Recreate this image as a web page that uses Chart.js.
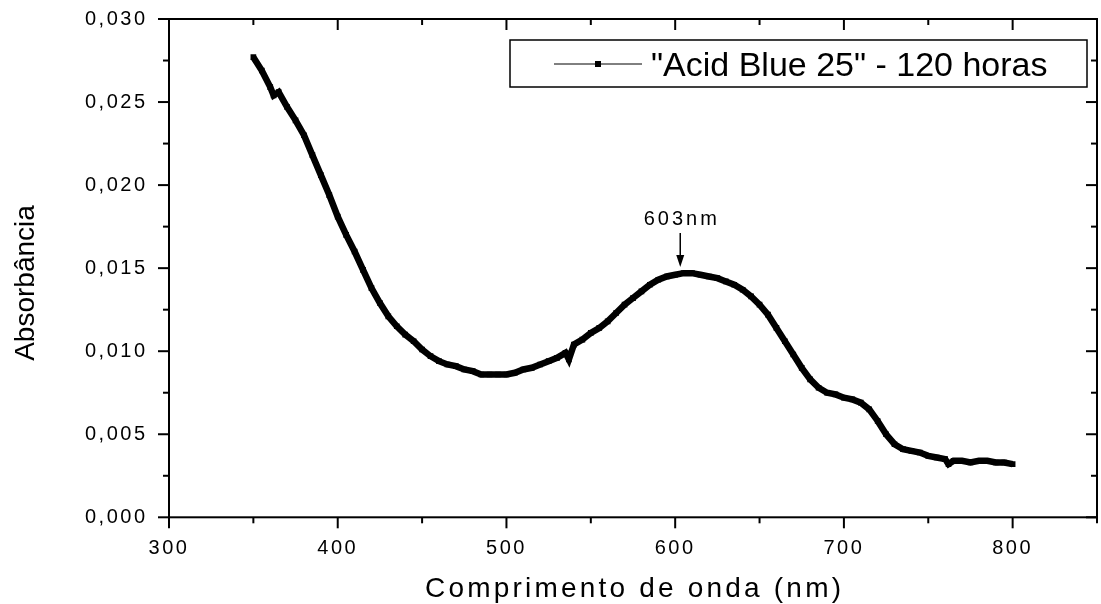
<!DOCTYPE html>
<html lang="pt">
<head>
<meta charset="utf-8">
<title>Acid Blue 25 - 120 horas</title>
<script src="https://cdn.jsdelivr.net/npm/chart.js@4.4.1/dist/chart.umd.min.js"></script>
<style>
    html, body { margin: 0; padding: 0; background: #fff; }
    #wrap { width: 1101px; height: 604px; }
</style>
</head>
<body>
<div id="wrap"><canvas id="espectro" width="1101" height="604"></canvas></div>
<script>
// Espectro UV-Vis (lido a cada ~5 nm)
const wavelengths = [
    350, 355, 360, 362, 365, 370, 375, 380, 385, 390, 395, 400, 405, 410, 415, 420,
    425, 430, 435, 440, 445, 450, 455, 460, 465, 470, 475, 480, 485, 490, 495, 500,
    505, 510, 515, 520, 525, 530, 535, 537, 540, 545, 550, 555, 560, 565, 570, 575,
    580, 585, 590, 595, 600, 605, 610, 615, 620, 625, 630, 635, 640, 645, 650, 655,
    660, 665, 670, 675, 680, 685, 690, 695, 700, 705, 710, 715, 720, 725, 730, 735,
    740, 745, 750, 755, 760, 762, 765, 770, 775, 780, 785, 790, 795, 800
];
const absorbance = [
    0.0277, 0.0269, 0.0259, 0.0254, 0.0256, 0.0247, 0.0239, 0.0230, 0.0218, 0.0206, 0.0194, 0.0181, 0.0170, 0.0160, 0.0149, 0.0138,
    0.0129, 0.0121, 0.0115, 0.0110, 0.0106, 0.0101, 0.0097, 0.0094, 0.0092, 0.0091, 0.0089, 0.0088, 0.0086, 0.0086, 0.0086, 0.0086,
    0.0087, 0.0089, 0.0090, 0.0092, 0.0094, 0.0096, 0.0099, 0.0095, 0.0104, 0.0107, 0.0111, 0.0114, 0.0118, 0.0123, 0.0128, 0.0132,
    0.0136, 0.0140, 0.0143, 0.0145, 0.0146, 0.0147, 0.0147, 0.0146, 0.0145, 0.0144, 0.0142, 0.0140, 0.0137, 0.0133, 0.0128, 0.0122,
    0.0114, 0.0106, 0.0098, 0.0090, 0.0083, 0.0078, 0.0075, 0.0074, 0.0072, 0.0071, 0.0069, 0.0065, 0.0058, 0.0050, 0.0044, 0.0041,
    0.0040, 0.0039, 0.0037, 0.0036, 0.0035, 0.0032, 0.0034, 0.0034, 0.0033, 0.0034, 0.0034, 0.0033, 0.0033, 0.0032
];

const xMajorTicks = [300, 400, 500, 600, 700, 800];
const xMinorTicks = [350, 450, 550, 650, 750, 850];
const yMajorTicks = [0, 0.005, 0.010, 0.015, 0.020, 0.025, 0.030];
const yMinorTicks = [0.0025, 0.0075, 0.0125, 0.0175, 0.0225, 0.0275];

const serieLabel = '"Acid Blue 25" - 120 horas';
const picoLabel = '603nm';
const picoNm = 603;

const FONTE = '"Liberation Sans", Arial, sans-serif';

// sem folga extra para os rótulos: a área do gráfico fica só com layout.padding
function semFolga(scale) {
    scale.paddingTop = 0;
    scale.paddingBottom = 0;
    scale.paddingLeft = 0;
    scale.paddingRight = 0;
}

// Moldura, marcas dos eixos, títulos, legenda e seta do pico
const moldura = {
    id: 'moldura',
    beforeDraw(chart) {
        chart.ctx.letterSpacing = '2.5px';
    },
    afterDraw(chart) {
        const ctx = chart.ctx;
        const a = chart.chartArea;
        const sx = chart.scales.x;
        const sy = chart.scales.y;

        ctx.save();
        ctx.strokeStyle = '#000';
        ctx.fillStyle = '#000';
        ctx.lineWidth = 2;
        ctx.strokeRect(a.left, a.top, a.right - a.left, a.bottom - a.top);

        const marca = (x1, y1, x2, y2) => {
            ctx.beginPath();
            ctx.moveTo(x1, y1);
            ctx.lineTo(x2, y2);
            ctx.stroke();
        };
        xMajorTicks.forEach(v => {
            const px = sx.getPixelForValue(v);
            marca(px, a.bottom, px, a.bottom + 11);
            marca(px, a.top, px, a.top + 11);
        });
        xMinorTicks.forEach(v => {
            const px = sx.getPixelForValue(v);
            marca(px, a.bottom, px, a.bottom + 6);
            marca(px, a.top, px, a.top + 6);
        });
        yMajorTicks.forEach(v => {
            const py = sy.getPixelForValue(v);
            marca(a.left - 11, py, a.left, py);
            marca(a.right - 11, py, a.right, py);
        });
        yMinorTicks.forEach(v => {
            const py = sy.getPixelForValue(v);
            marca(a.left - 6, py, a.left, py);
            marca(a.right - 6, py, a.right, py);
        });

        // título do eixo x
        ctx.font = '28px ' + FONTE;
        ctx.letterSpacing = '3.2px';
        ctx.textAlign = 'center';
        ctx.textBaseline = 'alphabetic';
        ctx.fillText('Comprimento de onda (nm)', (a.left + a.right) / 2 + 1.6, 597);

        // título do eixo y
        ctx.save();
        ctx.letterSpacing = '0px';
        ctx.translate(34, 283);
        ctx.rotate(-Math.PI / 2);
        ctx.fillText('Absorbância', 0, 0);
        ctx.restore();

        // legenda
        const lx = a.right - 10, ly = a.top + 21;
        ctx.lineWidth = 1.5;
        ctx.strokeRect(510, ly, lx - 510, 47);
        ctx.lineWidth = 1;
        marca(554, ly + 24, 642, ly + 24);
        ctx.fillRect(595, ly + 21, 6, 6);
        ctx.font = '34px ' + FONTE;
        ctx.letterSpacing = '0px';
        ctx.textAlign = 'left';
        ctx.fillText(chart.data.datasets[0].label, 651, ly + 36);

        // seta do pico
        const px = sx.getPixelForValue(picoNm);
        ctx.font = '20px ' + FONTE;
        ctx.letterSpacing = '3px';
        ctx.textAlign = 'center';
        ctx.fillText(picoLabel, px + 1.5, 225);
        ctx.lineWidth = 1.5;
        marca(px, 233, px, 258);
        ctx.beginPath();
        ctx.moveTo(px - 4, 255);
        ctx.lineTo(px + 4, 255);
        ctx.lineTo(px, 267);
        ctx.closePath();
        ctx.fill();
        ctx.restore();
    }
};

const ctx = document.getElementById('espectro').getContext('2d');
new Chart(ctx, {
    type: 'scatter',
    data: {
        datasets: [{
            label: serieLabel,
            data: wavelengths.map((w, i) => ({ x: w, y: absorbance[i] })),
            showLine: true,
            borderColor: '#000',
            backgroundColor: '#000',
            borderWidth: 6.5,
            pointStyle: 'rect',
            pointRadius: 4,
            pointBorderWidth: 0,
            pointBackgroundColor: '#000'
        }]
    },
    options: {
        responsive: false,
        animation: false,
        events: [],
        layout: { padding: { top: 19, right: 2, bottom: 0, left: 0 } },
        plugins: {
            legend: { display: false },
            tooltip: { enabled: false }
        },
        scales: {
            x: {
                type: 'linear',
                min: 300,
                max: 850,
                afterFit: (scale) => { scale.height = 86.7; semFolga(scale); },
                grid: { display: false, drawTicks: false },
                border: { display: false },
                ticks: {
                    stepSize: 100,
                    autoSkip: false,
                    maxRotation: 0,
                    padding: 19,
                    color: '#000',
                    font: { family: FONTE, size: 20 },
                    callback: (v) => (v % 100 === 0 ? String(v) : '')
                }
            },
            y: {
                type: 'linear',
                min: 0,
                max: 0.03,
                afterFit: (scale) => { scale.width = 169; semFolga(scale); },
                grid: { display: false, drawTicks: false },
                border: { display: false },
                ticks: {
                    stepSize: 0.005,
                    autoSkip: false,
                    padding: 21.5,
                    color: '#000',
                    font: { family: FONTE, size: 20 },
                    callback: (v) => v.toFixed(3).replace('.', ',')
                }
            }
        }
    },
    plugins: [moldura]
});
</script>
</body>
</html>
